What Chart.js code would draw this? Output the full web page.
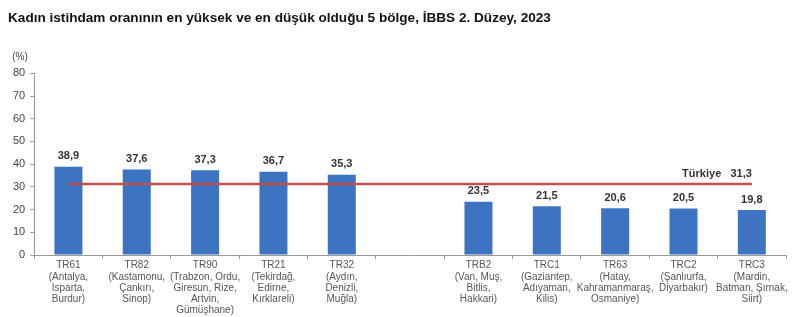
<!DOCTYPE html>
<html>
<head>
<meta charset="utf-8">
<script src="https://cdn.jsdelivr.net/npm/chart.js@4/dist/chart.umd.min.js"></script>
<style>
  html, body { margin: 0; padding: 0; background: #fff; }
</style>
</head>
<body>
<canvas id="chart" width="800" height="317"></canvas>
<script>
// regions: 5 highest, an empty slot, 5 lowest
const regionLabels = [
  ['TR61', '(Antalya,', 'Isparta,', 'Burdur)'],
  ['TR82', '(Kastamonu,', 'Çankırı,', 'Sinop)'],
  ['TR90', '(Trabzon, Ordu,', 'Giresun, Rize,', 'Artvin,', 'Gümüşhane)'],
  ['TR21', '(Tekirdağ,', 'Edirne,', 'Kırklareli)'],
  ['TR32', '(Aydın,', 'Denizli,', 'Muğla)'],
  '',
  ['TRB2', '(Van, Muş,', 'Bitlis,', 'Hakkari)'],
  ['TRC1', '(Gaziantep,', 'Adıyaman,', 'Kilis)'],
  ['TR63', '(Hatay,', 'Kahramanmaraş,', 'Osmaniye)'],
  ['TRC2', '(Şanlıurfa,', 'Diyarbakır)'],
  ['TRC3', '(Mardin,', 'Batman, Şırnak,', 'Siirt)']
]
const employmentRate = [38.9, 37.6, 37.3, 36.7, 35.3, null, 23.5, 21.5, 20.6, 20.5, 19.8]
const turkiyeRate = 31.3
const yTicks = [0, 10, 20, 30, 40, 50, 60, 70, 80]

const fmt = v => v.toFixed(1).replace('.', ',')

const extras = {
  id: 'extras',
  afterDatasetsDraw(chart) {
    const c = chart.ctx
    const x = chart.scales.x
    const y = chart.scales.y
    const meta = chart.getDatasetMeta(0)

    // value labels
    c.save()
    c.font = 'bold 11px "Liberation Sans", Arial, sans-serif'
    c.fillStyle = '#333'
    c.textAlign = 'center'
    c.textBaseline = 'bottom'
    meta.data.forEach((bar, i) => {
      const v = employmentRate[i]
      if (v == null) return
      c.fillText(fmt(v), bar.x, bar.y - 5)
    })

    // Türkiye line
    const ly = y.getPixelForValue(turkiyeRate)
    const x0 = x.getPixelForValue(0)
    const x1 = x.getPixelForValue(regionLabels.length - 1)
    c.strokeStyle = '#c0504d'
    c.lineWidth = 2.5
    c.beginPath()
    c.moveTo(x0, ly)
    c.lineTo(x1, ly)
    c.stroke()

    c.textAlign = 'right'
    c.textBaseline = 'bottom'
    c.fillStyle = '#333'
    c.fillText('Türkiye   ' + fmt(turkiyeRate), x1, ly - 4)

    // unit
    c.font = '10px "Liberation Sans", Arial, sans-serif'
    c.fillStyle = '#444'
    c.textAlign = 'center'
    c.textBaseline = 'middle'
    c.fillText('(%)', 20, 57)
    c.restore()
  }
}

new Chart(document.getElementById('chart'), {
  type: 'bar',
  data: {
    labels: regionLabels,
    datasets: [{
      data: employmentRate,
      backgroundColor: '#3d74c2',
      borderWidth: 0,
      barPercentage: 0.82,
      categoryPercentage: 0.5
    }]
  },
  options: {
    responsive: false,
    animation: false,
    layout: { padding: { left: 8, right: 14, top: 0, bottom: 0 } },
    plugins: {
      legend: { display: false },
      tooltip: { enabled: false },
      title: {
        display: true,
        text: 'Kadın istihdam oranının en yüksek ve en düşük olduğu 5 bölge, İBBS 2. Düzey, 2023',
        align: 'start',
        color: '#111',
        font: { family: '"Liberation Sans", Arial, sans-serif', size: 13.6, weight: 'bold' },
        padding: { top: 10, bottom: 47 }
      }
    },
    scales: {
      x: {
        grid: { offset: true, drawOnChartArea: false, drawTicks: true, tickLength: 4, color: '#999' },
        border: { color: '#999' },
        ticks: {
          color: '#555',
          font: { family: '"Liberation Sans", Arial, sans-serif', size: 10, lineHeight: 1.12 },
          maxRotation: 0,
          autoSkip: false,
          padding: 1
        }
      },
      y: {
        min: 0,
        max: 80,
        afterBuildTicks: axis => { axis.ticks = yTicks.map(v => ({ value: v })) },
        grid: { drawOnChartArea: false, drawTicks: true, tickLength: 4, color: '#999' },
        border: { color: '#999' },
        ticks: {
          color: '#444',
          font: { family: '"Liberation Sans", Arial, sans-serif', size: 11 },
          padding: 5
        }
      }
    }
  },
  plugins: [extras]
})
</script>
</body>
</html>
